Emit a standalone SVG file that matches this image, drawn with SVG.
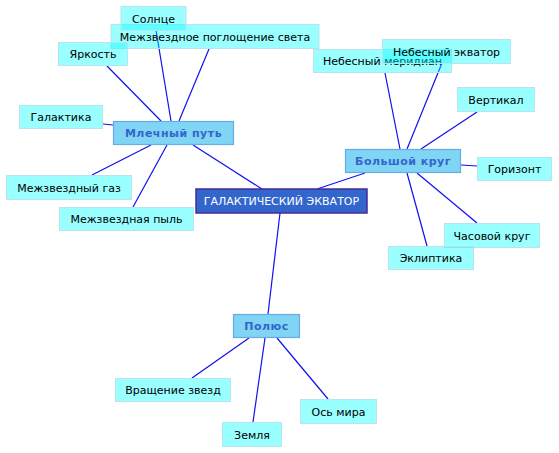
<svg xmlns="http://www.w3.org/2000/svg" width="559" height="453" viewBox="0 0 559 453">
<style>
.leaf rect{fill:#00ffff;fill-opacity:0.4;stroke:#b8e4f0;stroke-width:1}
.leaf text{font-family:"DejaVu Sans",sans-serif;font-size:11px;fill:#000;text-anchor:middle}
.mid rect{fill:#80d4f4;stroke:#66aae8;stroke-width:1.2}
.mid text{font-family:"DejaVu Sans",sans-serif;font-size:11px;font-weight:bold;fill:#3366cc;text-anchor:middle;letter-spacing:0.5px}
.root rect{fill:#3366cc;stroke:#4a2a96;stroke-width:1.5}
.root text{font-family:"DejaVu Sans",sans-serif;font-size:11px;fill:#fff;text-anchor:middle}
#connectors line{stroke:#1010f0;stroke-width:1.2}
</style>
<rect width="559" height="453" fill="#fff"/>
<g id="connectors">
<line x1="161" y1="121" x2="107" y2="66"/>
<line x1="171" y1="121" x2="156" y2="30"/>
<line x1="179" y1="121" x2="209" y2="49"/>
<line x1="113" y1="125" x2="103" y2="124"/>
<line x1="151" y1="145" x2="92" y2="175"/>
<line x1="167" y1="145" x2="133" y2="207"/>
<line x1="193" y1="145" x2="262" y2="189"/>
<line x1="365" y1="173" x2="317" y2="189"/>
<line x1="400" y1="149" x2="385" y2="73"/>
<line x1="407" y1="149" x2="442" y2="63"/>
<line x1="421" y1="149" x2="477" y2="112"/>
<line x1="461" y1="165" x2="477" y2="166"/>
<line x1="417" y1="173" x2="477" y2="223"/>
<line x1="407" y1="173" x2="427" y2="246"/>
<line x1="268" y1="314" x2="280" y2="213"/>
<line x1="249" y1="338" x2="192" y2="378"/>
<line x1="265" y1="338" x2="253" y2="422"/>
<line x1="277" y1="338" x2="328" y2="399"/>
</g>
<g id="n_mezhzv_pogl" class="leaf"><rect x="111" y="24.5" width="208" height="24"/><text x="215" y="40.5">Межзвездное поглощение света</text></g>
<g id="n_solnce" class="leaf"><rect x="121" y="6.5" width="65" height="24"/><text x="153.5" y="22.5">Солнце</text></g>
<g id="n_yarkost" class="leaf"><rect x="58.5" y="42.5" width="69" height="23"/><text x="93" y="57.5">Яркость</text></g>
<g id="n_galaktika" class="leaf"><rect x="19.5" y="105.5" width="83" height="23"/><text x="61" y="120.5">Галактика</text></g>
<g id="n_gaz" class="leaf"><rect x="6.5" y="175.5" width="125" height="24"/><text x="69" y="191.5">Межзвездный газ</text></g>
<g id="n_pyl" class="leaf"><rect x="59.5" y="207.5" width="134" height="23"/><text x="126.5" y="222.5">Межзвездная пыль</text></g>
<g id="n_nmeridian" class="leaf"><rect x="313.5" y="49.5" width="138" height="23"/><text x="382.5" y="64.5">Небесный меридиан</text></g>
<g id="n_nekvator" class="leaf"><rect x="382.5" y="39.5" width="128" height="24"/><text x="446.5" y="55.5">Небесный экватор</text></g>
<g id="n_vertikal" class="leaf"><rect x="457.5" y="87.5" width="77" height="24"/><text x="496" y="103.5">Вертикал</text></g>
<g id="n_gorizont" class="leaf"><rect x="477.5" y="157.5" width="74" height="23"/><text x="514.5" y="172.5">Горизонт</text></g>
<g id="n_chasovoy" class="leaf"><rect x="444.5" y="223.5" width="95" height="24"/><text x="492" y="239.5">Часовой круг</text></g>
<g id="n_ekliptika" class="leaf"><rect x="388.5" y="246.5" width="85" height="23"/><text x="431" y="261.5">Эклиптика</text></g>
<g id="n_vrashchenie" class="leaf"><rect x="115.5" y="378.5" width="115" height="23"/><text x="173" y="393.5">Вращение звезд</text></g>
<g id="n_zemlya" class="leaf"><rect x="222.5" y="422.5" width="59" height="24"/><text x="252" y="438.5">Земля</text></g>
<g id="n_os" class="leaf"><rect x="300.5" y="399.5" width="76" height="24"/><text x="338.5" y="415.5">Ось мира</text></g>
<g id="n_mlechny" class="mid"><rect x="113.5" y="121.5" width="120" height="23"/><text x="173.5" y="136.5">Млечный путь</text></g>
<g id="n_bolshoy" class="mid"><rect x="345.5" y="149.5" width="115" height="23"/><text x="403" y="164.5">Большой круг</text></g>
<g id="n_polyus" class="mid"><rect x="233.5" y="314.5" width="66" height="23"/><text x="266.5" y="329.5">Полюс</text></g>
<g id="n_root" class="root"><rect x="196" y="189" width="171" height="24"/><text x="281.5" y="205">ГАЛАКТИЧЕСКИЙ ЭКВАТОР</text></g>
</svg>
